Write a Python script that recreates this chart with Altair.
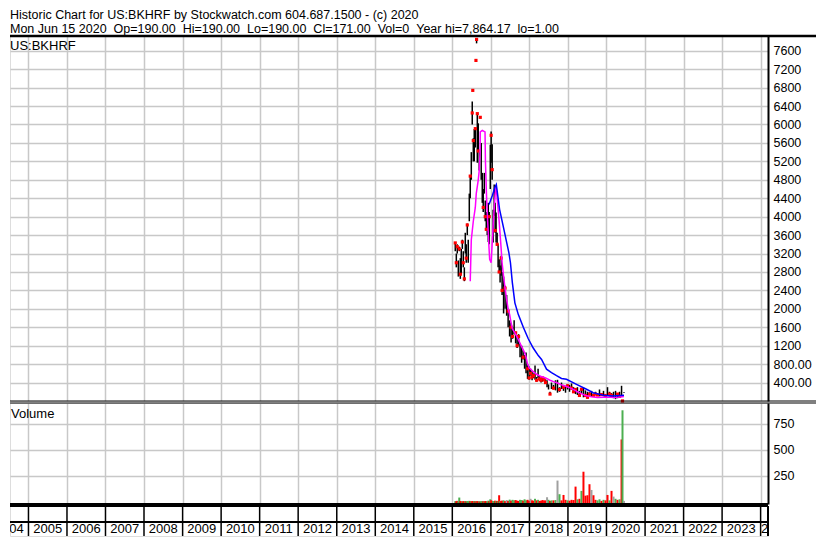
import altair as alt
import pandas as pd

FONT = "Liberation Sans"

header1 = "Historic Chart for US:BKHRF by Stockwatch.com 604.687.1500 - (c) 2020"
header2 = "Mon Jun 15 2020 \u00a0Op=190.00 \u00a0Hi=190.00 \u00a0Lo=190.00 \u00a0Cl=171.00 \u00a0Vol=0 \u00a0Year hi=7,864.17 \u00a0lo=1.00"
symbol_label = "US:BKHRF"
volume_label = "Volume"

dates = [
    "2016-01-29", "2016-02-08", "2016-02-17", "2016-02-27", "2016-03-07", "2016-03-17", "2016-03-26", "2016-04-05", "2016-04-14", "2016-04-24",
    "2016-05-03", "2016-05-12", "2016-05-22", "2016-05-31", "2016-06-10", "2016-06-19", "2016-06-29", "2016-07-08", "2016-07-13", "2016-07-18",
    "2016-07-27", "2016-08-06", "2016-08-12", "2016-08-18", "2016-08-25", "2016-09-03", "2016-09-12", "2016-09-22", "2016-10-01", "2016-10-11",
    "2016-10-20", "2016-10-30", "2016-11-08", "2016-11-18", "2016-11-27", "2016-12-07", "2016-12-16", "2016-12-26", "2017-01-03", "2017-01-13",
    "2017-01-22", "2017-02-01", "2017-02-10", "2017-02-19", "2017-03-01", "2017-03-10", "2017-03-20", "2017-03-29", "2017-04-08", "2017-04-17",
    "2017-05-01", "2017-05-15", "2017-05-30", "2017-06-13", "2017-06-27", "2017-07-11", "2017-07-25", "2017-08-09", "2017-08-23", "2017-09-06",
    "2017-09-20", "2017-10-04", "2017-10-19", "2017-11-02", "2017-11-16", "2017-11-30", "2017-12-14", "2017-12-29", "2018-01-12", "2018-01-26",
    "2018-02-09", "2018-02-23", "2018-03-10", "2018-03-24", "2018-04-07", "2018-04-21", "2018-05-05", "2018-05-20", "2018-06-03", "2018-06-17",
    "2018-07-01", "2018-07-15", "2018-07-29", "2018-08-17", "2018-09-05", "2018-09-24", "2018-10-13", "2018-11-01", "2018-11-20", "2018-12-09",
    "2018-12-28", "2019-01-16", "2019-02-04", "2019-02-23", "2019-03-14", "2019-04-01", "2019-04-20", "2019-05-09", "2019-05-28", "2019-06-16",
    "2019-07-05", "2019-07-24", "2019-08-12", "2019-08-31", "2019-09-19", "2019-10-08", "2019-10-27", "2019-11-15", "2019-12-04", "2019-12-23",
    "2020-01-11", "2020-01-30", "2020-02-18", "2020-03-08", "2020-03-27", "2020-04-15", "2020-05-04", "2020-05-23", "2020-06-01", "2020-06-15",
]
lows = [
    3250, 2900, 3200, 2700, 3250, 2650, 2750, 3300, 2900, 2600,
    3200, 3000, 3600, 3000, 3900, 4400, 4800, 6000, 6740, 5200,
    5200, 5500, 7390, 7760, 5170, 5400, 5000, 6155, 4800, 4300,
    4100, 4500, 3900, 3700, 3600, 3450, 3400, 4600, 5170, 4800,
    3440, 4020, 3650, 3440, 3370, 2900, 2785, 2570, 2720, 2300,
    1900, 2000, 1850, 1600, 1400, 1270, 1350, 1450, 1250, 1150,
    1200, 950, 830, 900, 700, 600, 480, 460, 550, 450,
    500, 460, 420, 500, 440, 400, 420, 450, 380, 300,
    250, 150, 260, 250, 230, 180, 200, 260, 220, 180,
    250, 200, 250, 180, 150, 130, 100, 150, 80, 100,
    60, 120, 90, 100, 130, 110, 100, 120, 100, 100,
    120, 100, 80, 60, 40, 60, 80, 100, 1, 171,
]
highs = [
    3450, 3200, 3400, 3050, 3350, 3100, 3300, 3500, 3250, 2900,
    3650, 3400, 3850, 3500, 4500, 4900, 5400, 6500, 6740, 5700,
    5900, 5910, 7390, 7864, 6235, 6025, 5400, 6155, 5600, 4950,
    4600, 4950, 4350, 4100, 3950, 4300, 4100, 5560, 5850, 5570,
    4150, 4700, 4300, 4090, 3650, 3400, 3075, 2940, 3150, 2800,
    2700, 2500, 2300, 2000, 1750, 1700, 1600, 1750, 1500, 1400,
    1450, 1250, 1200, 1100, 1000, 1050, 800, 750, 700, 650,
    600, 770, 520, 700, 550, 500, 520, 500, 470, 450,
    360, 200, 400, 350, 450, 460, 300, 400, 350, 330,
    360, 350, 380, 300, 280, 300, 220, 270, 290, 230,
    200, 190, 220, 160, 200, 170, 250, 170, 220, 150,
    300, 200, 170, 200, 220, 160, 200, 330, 5, 190,
]
closes = [
    3430, 3000, 3350, 2950, 3300, 2750, 3100, 3450, 3000, 2650,
    3550, 3100, 3820, 3300, 4450, 4880, 5300, 6250, 6740, 5650,
    5850, 5910, 7390, 7846, 6235, 5425, 5300, 6155, 5500, 4900,
    4200, 4550, 4000, 3725, 3900, 3500, 4000, 5500, 5765, 5020,
    4100, 4600, 3700, 4000, 3400, 3300, 2800, 2900, 3100, 2400,
    2100, 2450, 1900, 1950, 1500, 1600, 1400, 1700, 1480, 1200,
    1400, 1000, 1100, 950, 900, 650, 700, 500, 600, 520,
    550, 750, 450, 520, 480, 450, 500, 460, 400, 420,
    300, 150, 300, 280, 400, 350, 250, 380, 300, 200,
    330, 300, 280, 200, 250, 160, 120, 255, 250, 120,
    80, 150, 200, 120, 150, 130, 200, 140, 180, 120,
    250, 150, 120, 90, 200, 150, 100, 300, 1, 171,
]
red_flags = [
    1, 1, 1, 0, 1, 1, 0, 1, 1, 1,
    0, 1, 1, 0, 0, 1, 0, 1, 1, 1,
    0, 1, 1, 1, 1, 1, 0, 1, 0, 0,
    1, 0, 1, 1, 0, 0, 1, 0, 1, 1,
    0, 0, 1, 0, 1, 0, 1, 0, 1, 1,
    0, 1, 0, 1, 0, 1, 1, 0, 1, 1,
    1, 0, 0, 1, 0, 0, 1, 1, 1, 1,
    1, 0, 1, 0, 1, 1, 1, 1, 1, 0,
    0, 1, 0, 1, 0, 0, 1, 0, 1, 0,
    1, 0, 1, 1, 1, 0, 1, 1, 0, 1,
    1, 1, 0, 1, 1, 1, 0, 1, 0, 1,
    0, 1, 1, 0, 0, 1, 1, 0, 1, 0,
]

ma_short_dates = [
    "2016-06-19", "2016-06-29", "2016-07-18", "2016-08-06", "2016-08-15", "2016-09-03", "2016-09-12", "2016-09-20", "2016-09-22", "2016-10-11",
    "2016-11-06", "2016-11-10", "2016-11-18", "2016-11-24", "2016-12-12", "2016-12-20", "2017-01-03", "2017-01-22", "2017-02-10", "2017-02-19",
    "2017-03-01", "2017-03-20", "2017-04-08", "2017-04-17", "2017-05-01", "2017-05-15", "2017-05-30", "2017-06-13", "2017-06-27", "2017-07-11",
    "2017-07-25", "2017-08-23", "2017-09-20", "2017-10-19", "2017-11-16", "2017-11-30", "2017-12-14", "2017-12-29", "2018-01-26", "2018-03-10",
    "2018-04-21", "2018-06-03", "2018-07-15", "2018-08-17", "2018-09-24", "2018-11-01", "2018-12-09", "2019-01-16", "2019-02-23", "2019-04-01",
    "2019-05-09", "2019-06-16", "2019-08-12", "2019-10-08", "2019-12-04", "2020-01-30", "2020-03-27", "2020-05-04", "2020-06-15",
]
ma_short_vals = [
    2600, 3500, 3900, 4200, 4500, 4800, 5000, 5400, 5840, 5870,
    5840, 5200, 4600, 4230, 3400, 3075, 3000, 3800, 4500, 4650,
    4400, 3900, 3300, 3000, 2700, 2450, 2200, 2000, 1880, 1700,
    1560, 1450, 1320, 1180, 1050, 950, 800, 720, 660, 580,
    530, 500, 450, 420, 390, 350, 320, 290, 250, 200,
    160, 120, 90, 75, 80, 80, 75, 85, 100,
]

ma_long_dates = [
    "2016-12-14", "2017-01-13", "2017-02-10", "2017-02-21", "2017-03-24", "2017-05-11", "2017-05-30", "2017-06-20", "2017-07-05", "2017-07-23",
    "2017-08-16", "2017-09-17", "2017-11-04", "2017-12-21", "2018-02-06", "2018-03-26", "2018-04-26", "2018-06-12", "2018-07-29", "2018-09-15",
    "2018-11-01", "2018-12-18", "2019-03-23", "2019-06-26", "2019-08-28", "2019-12-01", "2020-03-04", "2020-06-15",
]
ma_long_vals = [
    4265, 4450, 4650, 4700, 4160, 3650, 3440, 3220, 3000, 2570,
    2130, 1880, 1600, 1350, 1150, 985, 900, 690, 615, 550,
    490, 470, 360, 255, 180, 125, 110, 125,
]

volumes = [
    8, 6, 10, 5, 42, 8, 6, 5, 7, 6,
    9, 5, 8, 6, 10, 7, 5, 8, 4, 6,
    9, 5, 4, 6, 7, 5, 6, 4, 8, 6,
    7, 5, 8, 6, 5, 12, 7, 25, 15, 10,
    8, 9, 12, 8, 10, 7, 64, 8, 10, 12,
    15, 8, 18, 10, 22, 12, 20, 15, 18, 12,
    10, 20, 18, 12, 25, 15, 20, 12, 30, 15,
    12, 30, 15, 20, 10, 12, 18, 14, 15, 45,
    20, 10, 15, 15, 18, 205, 74, 15, 67, 20,
    15, 12, 20, 18, 147, 25, 30, 106, 290, 60,
    64, 170, 115, 64, 20, 15, 25, 10, 20, 15,
    67, 15, 106, 51, 30, 20, 25, 600, 880, 10,
]
vol_dirs = [
    "u", "d", "d", "u", "u", "d", "d", "u", "d", "d",
    "u", "d", "u", "u", "u", "d", "u", "d", "d", "d",
    "u", "d", "d", "u", "d", "d", "u", "d", "u", "u",
    "d", "u", "d", "d", "u", "u", "d", "u", "d", "d",
    "u", "u", "d", "u", "d", "u", "d", "u", "d", "d",
    "u", "d", "f", "d", "u", "d", "u", "u", "d", "d",
    "d", "u", "u", "d", "u", "u", "d", "d", "f", "d",
    "d", "u", "d", "u", "d", "d", "d", "d", "d", "f",
    "u", "d", "u", "d", "u", "f", "u", "d", "d", "d",
    "u", "d", "d", "d", "d", "u", "d", "u", "d", "d",
    "d", "d", "f", "d", "d", "u", "u", "d", "u", "d",
    "d", "u", "d", "f", "u", "d", "u", "d", "u", "f",
]

price_ticks = [400, 800, 1200, 1600, 2000, 2400, 2800, 3200, 3600, 4000,
               4400, 4800, 5200, 5600, 6000, 6400, 6800, 7200, 7600]
volume_ticks = [250, 500, 750]
grid_years = list(range(2005, 2025))
label_years = [str(y) for y in range(2004, 2025)]
label_dates = [f"{y}-07-02" for y in range(2004, 2024)] + ["2024-01-04"]
label_aligns = ["center"] * 20 + ["left"]
boundary_dates = [f"{y}-01-01" for y in grid_years]

W, HP, HV, HA = 758, 365, 101, 30
RIGHT = W + 48
GRID = "#c8c8c8"

xscale = alt.Scale(domain=[alt.DateTime(year=2004, month=7, date=10),
                           alt.DateTime(year=2024, month=3, date=11)])
year_vals = [alt.DateTime(year=y, month=1, date=1) for y in grid_years]
xgrid_axis = alt.Axis(values=year_vals, tickCount=len(year_vals), grid=True, gridColor=GRID,
                      gridWidth=1.5, labels=False, ticks=False, domain=False, title=None)

one = pd.DataFrame({"k": [0]})
price_df = pd.DataFrame({"date": dates, "low": lows, "high": highs, "close": closes, "red": red_flags})
mas_df = pd.DataFrame({"date": ma_short_dates, "v": ma_short_vals})
mal_df = pd.DataFrame({"date": ma_long_dates, "v": ma_long_vals})
vol_df = pd.DataFrame({"date": dates, "vol": volumes, "dir": vol_dirs})
bound_df = pd.DataFrame({"date": boundary_dates})
lab_df = pd.DataFrame({"date": label_dates, "label": label_years, "al": label_aligns})

pscale = alt.Scale(domain=[0, 7920], nice=False, zero=False)
paxis = alt.Axis(orient="right", values=price_ticks, tickCount=len(price_ticks), labelOverlap=False,
                 labelExpr="datum.value >= 1000 ? format(datum.value, 'd') : format(datum.value, '.2f')",
                 grid=True, gridColor=GRID, gridWidth=1.5, ticks=False, domain=True,
                 domainColor="black", domainWidth=2, labelPadding=5, labelFont=FONT,
                 labelFontSize=12.5, labelColor="black", title=None)


def txt(s, x, y, size=13):
    return alt.Chart(one).mark_text(text=s, align="left", baseline="middle", font=FONT,
                                    fontSize=size, color="black").encode(x=alt.value(x), y=alt.value(y))


def hrule(y, x2, w):
    return alt.Chart(one).mark_rule(color="black", strokeWidth=w).encode(
        x=alt.value(0), x2=alt.value(x2), y=alt.value(y))


bars = alt.Chart(price_df).mark_rule(color="black", strokeWidth=1.5).encode(
    x=alt.X("date:T", scale=xscale, axis=xgrid_axis),
    y=alt.Y("low:Q", scale=pscale, axis=paxis),
    y2="high:Q",
)
reds = alt.Chart(price_df).transform_filter("datum.red == 1").mark_square(
    color="#ff0000", size=10, opacity=1).encode(x="date:T", y="close:Q")
mas = alt.Chart(mas_df).mark_line(color="#ff00ff", strokeWidth=1.5).encode(x="date:T", y="v:Q")
mal = alt.Chart(mal_df).mark_line(color="#0000ff", strokeWidth=1.5).encode(x="date:T", y="v:Q")

price = alt.layer(
    bars, reds, mas, mal,
    txt(header1, 0, -21, 12.5), txt(header2, 0, -7.5, 12.5), txt(symbol_label, 0, 10),
    hrule(0, RIGHT, 2.5), hrule(HP, RIGHT, 1),
).properties(width=W, height=HP)

vaxis = alt.Axis(orient="right", values=volume_ticks, tickCount=len(volume_ticks), labelOverlap=False,
                 grid=True, gridColor=GRID, gridWidth=1.5, ticks=False, domain=True, domainColor="black",
                 domainWidth=2, labelPadding=5, labelFont=FONT, labelFontSize=12.5, labelColor="black",
                 title=None)
vbars = alt.Chart(vol_df).mark_rule(strokeWidth=2).encode(
    x=alt.X("date:T", scale=xscale, axis=xgrid_axis),
    y=alt.Y("vol:Q", scale=alt.Scale(domain=[-20, 950], nice=False, zero=False), axis=vaxis),
    y2=alt.value(HV),
    color=alt.Color("dir:N", scale=alt.Scale(domain=["u", "d", "f"],
                                             range=["#4caf50", "#ff0000", "#a0a0a0"]), legend=None),
)
volume = alt.layer(
    vbars, txt(volume_label, 1, 11), hrule(0, RIGHT, 1), hrule(HV, W, 2),
).properties(width=W, height=HV)

brules = alt.Chart(bound_df).mark_rule(color="black", strokeWidth=1.5).encode(
    x=alt.X("date:T", scale=xscale, axis=None), y=alt.value(0), y2=alt.value(HA))
blabels_c = alt.Chart(lab_df).transform_filter("datum.al == 'center'").mark_text(
    clip=True, font=FONT, fontSize=13, color="black", align="center", baseline="middle").encode(
    x=alt.X("date:T", scale=xscale, axis=None), y=alt.value(23), text="label:N")
blabels_l = alt.Chart(lab_df).transform_filter("datum.al == 'left'").mark_text(
    clip=True, font=FONT, fontSize=13, color="black", align="left", baseline="middle").encode(
    x=alt.X("date:T", scale=xscale, axis=None), y=alt.value(23), text="label:N")
rborder = alt.Chart(one).mark_rule(color="black", strokeWidth=2).encode(
    x=alt.value(W), y=alt.value(0), y2=alt.value(HA))
axisrow = alt.layer(
    brules, blabels_c, blabels_l, hrule(16, W, 2), hrule(0, W, 2), rborder,
).properties(width=W, height=HA)

chart = alt.vconcat(price, volume, axisrow, spacing=2, bounds="flush").configure_view(
    stroke=None).configure(background="white").properties(
    padding={"left": 0, "top": 0, "right": 0, "bottom": 0})

chart.save("out.html", embed_options={"renderer": "svg", "actions": False})
